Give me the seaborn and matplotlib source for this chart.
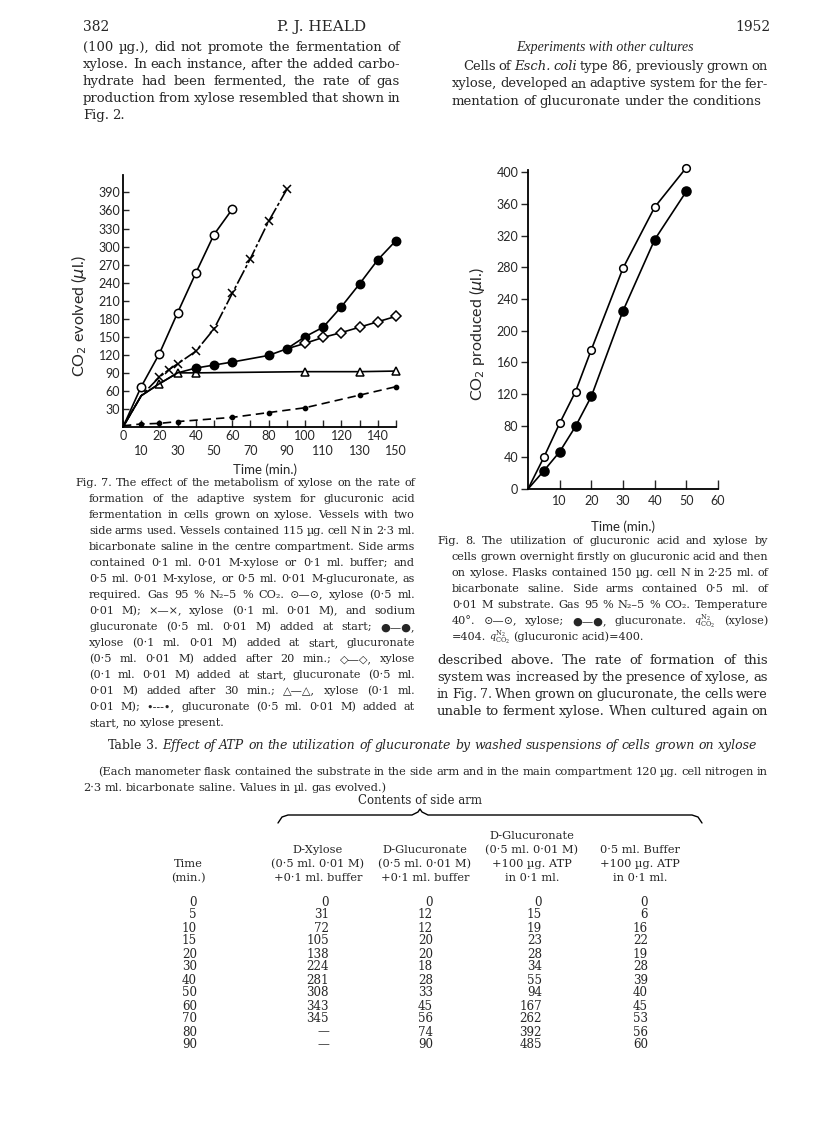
import matplotlib
matplotlib.use('Agg')
import matplotlib.pyplot as plt
import seaborn as sns

# Fig. 7 -- CO2 evolved (ul.) against time (min.)
f7_t_xyl05 = [0, 10, 20, 30, 40, 50, 60]
f7_co2_xyl05 = [0, 67, 122, 190, 256, 320, 362]
f7_t_xylgluc = [0, 10, 20, 25, 30, 40, 50, 60, 70, 80, 90]
f7_co2_xylgluc = [0, 52, 83, 95, 105, 126, 163, 222, 280, 342, 395]
f7_t_gluc20 = [0, 10, 20, 30, 40, 50, 60, 80, 90, 100, 110, 120, 130, 140, 150]
f7_co2_gluc20 = [0, 52, 72, 90, 98, 103, 108, 119, 130, 150, 166, 200, 238, 278, 310]
f7_t_gluc30 = [90, 100, 110, 120, 130, 140, 150]
f7_co2_gluc30 = [130, 139, 149, 157, 166, 175, 184]
f7_t_xyl01 = [0, 10, 20, 30, 40, 100, 130, 150]
f7_co2_xyl01 = [0, 52, 72, 90, 90, 92, 92, 93]
f7_t_gluconly = [0, 10, 20, 30, 60, 80, 100, 130, 150]
f7_co2_gluconly = [2, 5, 6, 9, 16, 24, 32, 53, 67]

# Fig. 8 -- CO2 produced (ul.) against time (min.)
f8_t = [0, 5, 10, 15, 20, 30, 40, 50]
f8_co2_xylose = [0, 40, 83, 123, 176, 279, 356, 406]
f8_co2_glucuronate = [0, 23, 47, 79, 117, 225, 315, 376]

# Table 3 -- ul. gas evolved
tab_time = [0, 5, 10, 15, 20, 30, 40, 50, 60, 70, 80, 90]
tab_xylose = [0, 31, 72, 105, 138, 224, 281, 308, 343, 345, None, None]
tab_gluc = [0, 12, 12, 20, 20, 18, 28, 33, 45, 56, 74, 90]
tab_gluc_atp = [0, 15, 19, 23, 28, 34, 55, 94, 167, 262, 392, 485]
tab_buffer_atp = [0, 6, 16, 22, 19, 28, 39, 40, 45, 53, 56, 60]

left_para = [
    "(100 µg.), did not promote the fermentation of",
    "xylose. In each instance, after the added carbo-",
    "hydrate had been fermented, the rate of gas",
    "production from xylose resembled that shown in",
    "Fig. 2.",
]
right_para = [
    "Cells of _Esch. _coli type 86, previously grown on",
    "xylose, developed an adaptive system for the fer-",
    "mentation of glucuronate under the conditions",
]
right_para2 = [
    "described above. The rate of formation of this",
    "system was increased by the presence of xylose, as",
    "in Fig. 7. When grown on glucuronate, the cells were",
    "unable to ferment xylose. When cultured again on",
]
fig7_caption = [
    "Fig. 7. The effect of the metabolism of xylose on the rate of",
    "formation of the adaptive system for glucuronic acid",
    "fermentation in cells grown on xylose. Vessels with two",
    "side arms used. Vessels contained 115 µg. cell N in 2·3 ml.",
    "bicarbonate saline in the centre compartment. Side arms",
    "contained 0·1 ml. 0·01 M-xylose or 0·1 ml. buffer; and",
    "0·5 ml. 0·01 M-xylose, or 0·5 ml. 0·01 M-glucuronate, as",
    "required. Gas 95 % N₂–5 % CO₂. ⊙—⊙, xylose (0·5 ml.",
    "0·01 M); ×—×, xylose (0·1 ml. 0·01 M), and sodium",
    "glucuronate (0·5 ml. 0·01 M) added at start; ●—●,",
    "xylose (0·1 ml. 0·01 M) added at start, glucuronate",
    "(0·5 ml. 0·01 M) added after 20 min.; ◇—◇, xylose",
    "(0·1 ml. 0·01 M) added at start, glucuronate (0·5 ml.",
    "0·01 M) added after 30 min.; △—△, xylose (0·1 ml.",
    "0·01 M); •---•, glucuronate (0·5 ml. 0·01 M) added at",
    "start, no xylose present.",
]
q = r"$q_{\mathrm{CO}_2}^{\mathrm{N}_2}$"
fig8_caption = [
    "Fig. 8. The utilization of glucuronic acid and xylose by",
    "cells grown overnight firstly on glucuronic acid and then",
    "on xylose. Flasks contained 150 µg. cell N in 2·25 ml. of",
    "bicarbonate saline. Side arms contained 0·5 ml. of",
    "0·01 M substrate. Gas 95 % N₂–5 % CO₂. Temperature",
    "40°. ⊙—⊙, xylose; ●—●, glucuronate. " + q + " (xylose)",
    "=404. " + q + " (glucuronic acid)=400.",
]

W, H = 816, 1146
sns.set_style("ticks")
plt.rcParams['font.family'] = ['DejaVu Serif', 'DejaVu Sans']
plt.rcParams['mathtext.fontset'] = 'dejavuserif'

fig = plt.figure(figsize=(W / 100, H / 100), dpi=100)
page = fig.add_axes([0, 0, 1, 1])
page.set_xlim(0, W)
page.set_ylim(H, 0)
page.axis('off')
renderer = fig.canvas.get_renderer()


def put_line(line, x0, x1, y, size, justify=True, italic=False):
    # place words one by one so the line can be justified between x0 and x1
    texts = []
    for w in line.split(' '):
        style = 'italic' if italic else 'normal'
        if w.startswith('_'):
            w, style = w[1:], 'italic'
        fs = size * 0.85 if '$' in w else size
        texts.append(page.text(x0, y + 4, w, fontsize=fs, style=style,
                               ha='left', va='baseline'))
    widths = [t.get_window_extent(renderer).width for t in texts]
    min_gap = size * 0.3
    n = len(texts)
    if justify and n > 1 and sum(widths) + min_gap * (n - 1) > x1 - x0:
        # too long for the measure: shrink this line a little
        k = (x1 - x0 - min_gap * (n - 1)) / sum(widths)
        for t in texts:
            t.set_fontsize(t.get_fontsize() * k)
        widths = [t.get_window_extent(renderer).width for t in texts]
    gap = size * 0.38
    if justify and n > 1:
        gap = (x1 - x0 - sum(widths)) / (n - 1)
    x = x0
    for t, w in zip(texts, widths):
        t.set_x(x)
        x += w + gap


def put_block(lines, x_first, x_rest, x1, y0, dy, size, last_justified=False):
    for i, line in enumerate(lines):
        x0 = x_first if i == 0 else x_rest
        just = last_justified or i < len(lines) - 1
        put_line(line, x0, x1, y0 + i * dy, size, justify=just)


# running head
page.text(83, 27, "382", fontsize=10, ha='left', va='center')
page.text(322, 27, "P. J. HEALD", fontsize=11, ha='center', va='center')
page.text(770, 27, "1952", fontsize=10, ha='right', va='center')

put_block(left_para, 83, 83, 400, 47, 17, 9.5)
page.text(605, 48, "Experiments with other cultures", fontsize=10,
          family='Liberation Serif', style='italic', ha='center', va='center')
put_block(right_para, 463, 452, 768, 66, 17.5, 9.5)
put_block(right_para2, 437, 437, 768, 660, 17, 9.5, last_justified=True)

put_block(fig7_caption, 75, 89, 415, 482, 16, 8.1)
put_block(fig8_caption, 437, 452, 768, 540, 16, 8.1)

# Table 3
put_line("Table 3. _Effect _of _ATP _on _the _utilization _of _glucuronate _by "
         "_washed _suspensions _of _cells _grown _on _xylose", 108, 757, 745, 9)
put_line("(Each manometer flask contained the substrate in the side arm and in "
         "the main compartment 120 µg. cell nitrogen in", 98, 768, 771, 8.2)
put_line("2·3 ml. bicarbonate saline. Values in µl. gas evolved.)", 83, 768, 787,
         8.2, justify=False)
page.text(420, 801, "Contents of side arm", fontsize=8.5, ha='center', va='center')
brace_x = [278, 282, 288, 412, 418, 420, 422, 428, 692, 698, 702]
brace_y = [823, 817, 815, 815, 812, 809, 812, 815, 815, 817, 823]
page.plot(brace_x, brace_y, color='black', lw=1.0)

hdr = 8.2
num = 8.6
col_c = [188, 318, 425, 532, 640]
col_r = [197, 329, 433, 542, 648]
page.text(col_c[0], 864, "Time", fontsize=hdr, ha='center', va='center')
page.text(col_c[0], 878, "(min.)", fontsize=hdr, ha='center', va='center')
heads = [
    ["", "D-Xylose", "(0·5 ml. 0·01 M)", "+0·1 ml. buffer"],
    ["", "D-Glucuronate", "(0·5 ml. 0·01 M)", "+0·1 ml. buffer"],
    ["D-Glucuronate", "(0·5 ml. 0·01 M)", "+100 µg. ATP", "in 0·1 ml."],
    ["", "0·5 ml. Buffer", "+100 µg. ATP", "in 0·1 ml."],
]
for c, rows in enumerate(heads):
    for r, txt in enumerate(rows):
        page.text(col_c[c + 1], 836 + 14 * r, txt, fontsize=hdr,
                  ha='center', va='center')

columns = [tab_time, tab_xylose, tab_gluc, tab_gluc_atp, tab_buffer_atp]
for c, vals in enumerate(columns):
    for r, v in enumerate(vals):
        txt = "—" if v is None else str(v)
        page.text(col_r[c], 902 + 13 * r, txt, fontsize=num, ha='right', va='center')


def rect(l, t, r, b):
    return [l / W, 1 - b / H, (r - l) / W, (b - t) / H]


def style_axes(ax):
    ax.set_facecolor('none')
    for s in ['top', 'right']:
        ax.spines[s].set_visible(False)
    for s in ['left', 'bottom']:
        ax.spines[s].set_linewidth(1.3)
        ax.spines[s].set_color('black')


def line(ax, x, y, marker, ms, mfc, start=1, ls='-'):
    sns.lineplot(x=x, y=y, ax=ax, color='black', linewidth=1.2, linestyle=ls,
                 marker=marker, markersize=ms, markerfacecolor=mfc,
                 markeredgecolor='black', markeredgewidth=1.1,
                 markevery=list(range(start, len(x))), clip_on=False)


tick_font = dict(fontfamily='Lato', fontsize=9)

# ---- Fig. 7
ax7 = fig.add_axes(rect(123, 175, 396, 427))
style_axes(ax7)
line(ax7, f7_t_xyl01, f7_co2_xyl01, '^', 6, 'white', start=2)
line(ax7, f7_t_gluc20, f7_co2_gluc20, 'o', 6, 'black', start=4)
line(ax7, f7_t_gluc30, f7_co2_gluc30, 'D', 5, 'white')
line(ax7, f7_t_xylgluc, f7_co2_xylgluc, 'x', 5.5, 'black', start=2)
ax7.lines[-1].set_dashes([9, 1.5, 2, 1.5])
line(ax7, f7_t_xyl05, f7_co2_xyl05, 'o', 6, 'white')
sns.scatterplot(x=f7_t_xyl05[1:], y=f7_co2_xyl05[1:], ax=ax7, color='black',
                s=3, linewidth=0, clip_on=False)
line(ax7, f7_t_gluconly, f7_co2_gluconly, 'o', 3, 'black')
ax7.lines[-1].set_dashes([5, 3])
ax7.set_xlim(0, 150)
ax7.set_ylim(0, 419)
# x labels alternate on two rows: even tens on the first, odd tens below
even = list(range(0, 141, 20))
odd = list(range(10, 151, 20))
ax7.set_xticks(even)
ax7.set_xticklabels([str(v) for v in even], **tick_font)
ax7.set_xticks(odd, minor=True)
ax7.set_xticklabels([str(v) for v in odd], minor=True, **tick_font)
yt = list(range(30, 391, 30))
ax7.set_yticks(yt)
ax7.set_yticklabels([str(v) for v in yt], **tick_font)
ax7.tick_params(axis='x', which='major', direction='in', length=5, width=1, pad=2)
ax7.tick_params(axis='x', which='minor', direction='in', length=5, width=1, pad=13)
ax7.tick_params(axis='y', direction='in', length=4, width=1, pad=2)
ax7.set_xlabel("Time (min.)", fontfamily='Lato', fontsize=9.5)
ax7.set_ylabel(r"CO$_2$ evolved ($\mu$l.)", fontfamily='Lato', fontsize=11.5,
               math_fontfamily='dejavusans')
ax7.xaxis.set_label_coords(0.52, -0.145)
ax7.yaxis.set_label_coords(-0.125, 0.44)

# ---- Fig. 8
ax8 = fig.add_axes(rect(528, 170, 718, 489))
style_axes(ax8)
line(ax8, f8_t, f8_co2_xylose, 'o', 5.5, 'white')
sns.scatterplot(x=f8_t[1:], y=f8_co2_xylose[1:], ax=ax8, color='black',
                s=3, linewidth=0, clip_on=False)
line(ax8, f8_t, f8_co2_glucuronate, 'o', 6.5, 'black')
ax8.set_xlim(0, 60)
ax8.set_ylim(0, 403)
ax8.set_xticks(range(10, 61, 10))
ax8.set_xticklabels([str(v) for v in range(10, 61, 10)], **tick_font)
ax8.set_yticks(range(0, 401, 40))
ax8.set_yticklabels([str(v) for v in range(0, 401, 40)], **tick_font)
ax8.tick_params(axis='x', direction='in', length=6.5, width=1, pad=4)
ax8.tick_params(axis='y', direction='out', length=5, width=1, pad=2)
ax8.set_xlabel("Time (min.)", fontfamily='Lato', fontsize=9.5)
ax8.set_ylabel(r"CO$_2$ produced ($\mu$l.)", fontfamily='Lato', fontsize=11.5,
               math_fontfamily='dejavusans')
ax8.xaxis.set_label_coords(0.5, -0.1)
ax8.yaxis.set_label_coords(-0.215, 0.485)

fig.savefig("out.png", dpi=100)
